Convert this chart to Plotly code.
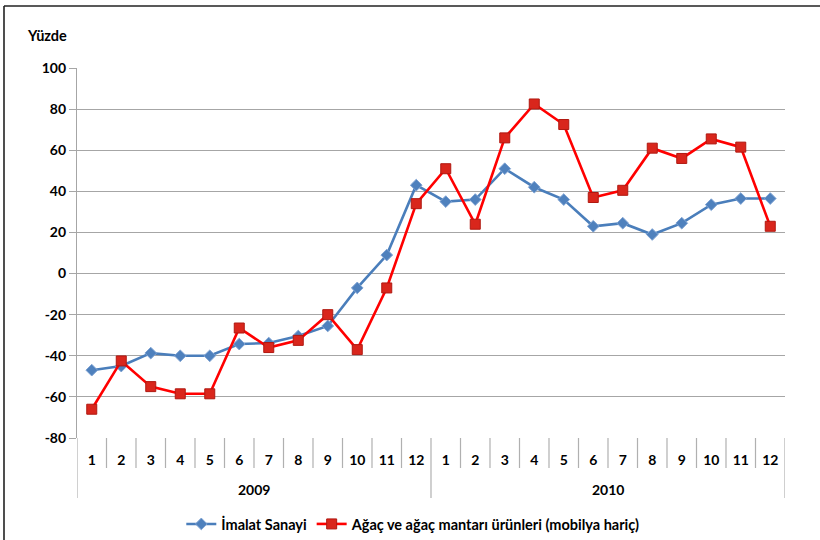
import plotly.graph_objects as go

months = ["1", "2", "3", "4", "5", "6", "7", "8", "9", "10", "11", "12"] * 2
years = ["2009", "2010"]
imalat = [-47, -45, -38.7, -40, -40, -34.3, -33.8, -30.4, -25.5, -7, 9, 43,
          35, 36, 51, 42, 36, 23, 24.5, 19, 24.5, 33.5, 36.5, 36.5]
agac = [-66, -42.5, -55, -58.5, -58.5, -26.5, -36, -32.5, -20, -37, -7, 34,
        51, 24, 66, 82.5, 72.5, 37, 40.5, 61, 56, 65.5, 61.5, 23]
y_ticks = [-80, -60, -40, -20, 0, 20, 40, 60, 80, 100]
y_ticklabels = ["-80", "-60", "-40", "-20", "0", "20", "40", "60", "80", "100"]

x = list(range(1, len(months) + 1))
FONT = "Lato, 'Open Sans', sans-serif"

fig = go.Figure()
fig.add_trace(go.Scatter(
    x=x, y=imalat, name="İmalat Sanayi", mode="lines+markers",
    line=dict(color="#4a7ebb", width=2.6),
    marker=dict(symbol="diamond", size=9, color="#4f81bd",
                line=dict(color="#7fa3d3", width=1)),
))
fig.add_trace(go.Scatter(
    x=x, y=agac, name="Ağaç ve ağaç mantarı ürünleri (mobilya hariç)",
    mode="lines+markers",
    line=dict(color="#ff0000", width=2.6),
    marker=dict(symbol="square", size=10, color="#d9261c",
                line=dict(color="#b01810", width=1)),
))

shapes = []
n = len(months)
for k in range(n + 1):
    xb = k + 0.5
    long = (k % 12 == 0)
    shapes.append(dict(type="line", xref="x", yref="paper",
                       x0=xb, x1=xb, y0=0, y1=(-60 / 370) if long else (-30 / 370),
                       line=dict(color="#b0b0b0", width=1.2)))
# outer frame (left and top edges visible)
shapes.append(dict(type="line", xref="paper", yref="paper",
                   x0=-73 / 708, x1=-73 / 708, y0=-0.3, y1=(438 - 6) / 370,
                   line=dict(color="#222222", width=1.6)))
shapes.append(dict(type="line", xref="paper", yref="paper",
                   x0=-73 / 708, x1=1.2, y0=(438 - 6) / 370, y1=(438 - 6) / 370,
                   line=dict(color="#222222", width=1.6)))
fig.update_layout(shapes=shapes)

annotations = [
    dict(text="<b>Yüzde</b>", xref="paper", yref="paper",
         x=(47 - 77) / 708, y=(438 - 35) / 370, showarrow=False,
         xanchor="center", yanchor="middle",
         font=dict(family=FONT, size=14.5, color="#000")),
]
for i, yr in enumerate(years):
    annotations.append(dict(text="<b>" + yr + "</b>", xref="x", yref="paper",
                            x=6.5 + 12 * i, y=(438 - 490) / 370, showarrow=False,
                            xanchor="center", yanchor="middle",
                            font=dict(family=FONT, size=14, color="#000")))
fig.update_layout(annotations=annotations)

fig.update_layout(
    width=820, height=540,
    margin=dict(l=77, r=35, t=68, b=102, autoexpand=False),
    paper_bgcolor="white", plot_bgcolor="white",
    font=dict(family=FONT, size=14, color="#000"),
    showlegend=True,
    legend=dict(orientation="h", x=0.475, xanchor="center", y=(438 - 524) / 370,
                yanchor="middle", font=dict(family=FONT, size=14.5, weight="bold"),
                bgcolor="rgba(0,0,0,0)"),
    xaxis=dict(range=[0.5, n + 0.5], tickvals=x, ticktext=months,
               showgrid=False, zeroline=False, showline=False, ticks="",
               automargin=False,
               tickfont=dict(family=FONT, size=14, weight="bold", color="#000"),
               ticklabelstandoff=12),
    yaxis=dict(range=[-80, 100], tickvals=y_ticks, ticktext=y_ticklabels,
               showgrid=True,
               gridcolor="#a6a6a6", gridwidth=1.2, zeroline=False,
               showline=True, linecolor="#a6a6a6", linewidth=1.2,
               automargin=False,
               ticks="outside", ticklen=7, tickcolor="#a6a6a6", tickwidth=1.2,
               tickfont=dict(family=FONT, size=14, weight="bold", color="#000")),
)

fig.write_html("out.html", config={"displayModeBar": False},
               post_script="document.body.style.margin='0';")
